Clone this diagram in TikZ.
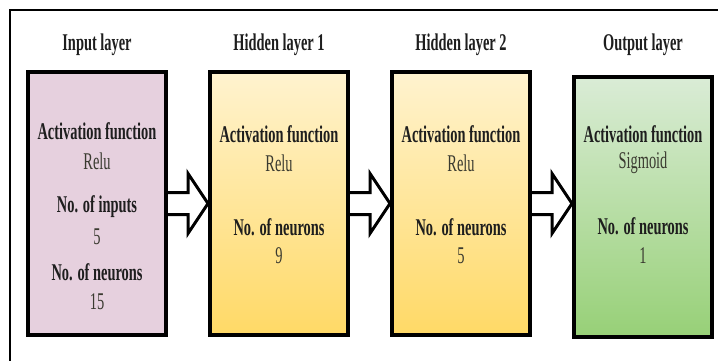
\documentclass[tikz,border=0pt]{standalone}
\usepackage{fontspec}
\setmainfont[FakeStretch=0.6]{Liberation Serif}
\usepackage{tikz}
\usetikzlibrary{positioning, calc}
\definecolor{InkDark}{HTML}{1E1E1E}
\definecolor{InkSoft}{HTML}{3A3A30}
\definecolor{PinkBox}{HTML}{E6D0DE}
\definecolor{YellowTop}{HTML}{FFF3CF}
\definecolor{YellowBot}{HTML}{FFD966}
\definecolor{GreenTop}{HTML}{DAECD6}
\definecolor{GreenBot}{HTML}{97D077}

% hollow block arrow from the right side of one layer to the next
\newcommand{\layerarrow}[2]{%
  \draw[fatarrow] ($(#1.east)+(0,-11)$) -- ($(#2.west |- #1.east)+(-20,-11)$)
    -- ($(#2.west |- #1.east)+(-20,-30)$) -- (#2.west |- #1.east)
    -- ($(#2.west |- #1.east)+(-20,30)$) -- ($(#2.west |- #1.east)+(-20,11)$)
    -- ($(#1.east)+(0,11)$);}

\begin{document}
\begin{tikzpicture}[
  x=1pt, y=-1pt,
  node distance=40pt,
  layer/.style={rectangle, draw=black, line width=4pt,
                minimum width=138pt, minimum height=263pt},
  title/.style={font=\fontsize{24}{26}\selectfont\bfseries, text=InkDark},
  head/.style={font=\fontsize{24}{26}\selectfont\bfseries, text=InkDark, inner sep=0pt},
  value/.style={font=\fontsize{24}{26}\selectfont, text=InkSoft, inner sep=0pt},
  fatarrow/.style={draw=black, fill=white, line width=3pt, line join=miter}
]
  \useasboundingbox (0,0) rectangle (718,361);
  \draw[line width=2.5pt] (10,361) -- (10,10) -- (718,10);

  % the four layers
  \node[layer, fill=PinkBox] (inp) at (97,203.5) {};
  \node[layer, top color=YellowTop, bottom color=YellowBot, right=of inp] (hid1) {};
  \node[layer, top color=YellowTop, bottom color=YellowBot, right=of hid1] (hid2) {};
  \node[layer, top color=GreenTop, bottom color=GreenBot, right=of hid2,
        yshift=-3.5pt, minimum height=260pt] (outp) {};

  % titles
  \node[title] (inpT)  at (inp.north  |- 0,45) {Input layer};
  \node[title] (hid1T) at (hid1.north |- 0,45) {Hidden layer 1};
  \node[title] (hid2T) at (hid2.north |- 0,45) {Hidden layer 2};
  \node[title] (outpT) at (outp.north |- 0,45) {Output layer};

  % input layer
  \node[head]  (inpA) at (inp |- 0,131) {Activation function};
  \node[value] (inpB) at (inp |- 0,161) {Relu};
  \node[head]  (inpC) at (inp |- 0,207) {No. of inputs};
  \node[value] (inpD) at (inp |- 0,237) {5};
  \node[head]  (inpE) at (inp |- 0,272) {No. of neurons};
  \node[value] (inpF) at (inp |- 0,302) {15};

  % hidden layer 1
  \node[head]  (hid1A) at (hid1 |- 0,134) {Activation function};
  \node[value] (hid1B) at (hid1 |- 0,163) {Relu};
  \node[head]  (hid1C) at (hid1 |- 0,227) {No. of neurons};
  \node[value] (hid1D) at (hid1 |- 0,256) {9};

  % hidden layer 2
  \node[head]  (hid2A) at (hid2 |- 0,134) {Activation function};
  \node[value] (hid2B) at (hid2 |- 0,163) {Relu};
  \node[head]  (hid2C) at (hid2 |- 0,227) {No. of neurons};
  \node[value] (hid2D) at (hid2 |- 0,256) {5};

  % output layer
  \node[head]  (outpA) at (outp |- 0,134) {Activation function};
  \node[value] (outpB) at (outp |- 0,163) {Sigmoid};
  \node[head]  (outpC) at (outp |- 0,226) {No. of neurons};
  \node[value] (outpD) at (outp |- 0,256) {1};

  \layerarrow{inp}{hid1}
  \layerarrow{hid1}{hid2}
  \layerarrow{hid2}{outp}
\end{tikzpicture}
\end{document}
